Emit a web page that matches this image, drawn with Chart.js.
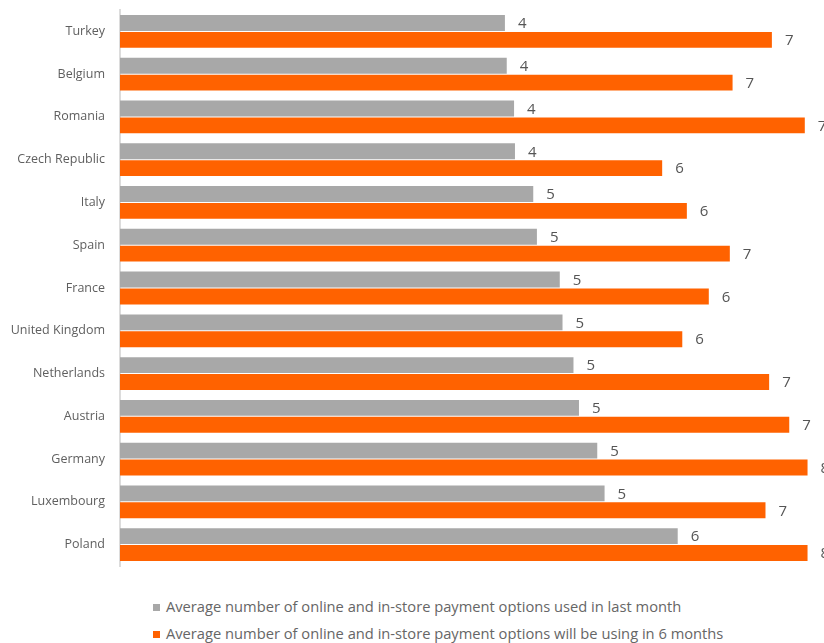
<!DOCTYPE html>
<html>
<head>
<meta charset="utf-8">
<script src="https://cdn.jsdelivr.net/npm/chart.js@4"></script>
<style>
    html, body { margin: 0; padding: 0; background: #fff; }
    #wrap { position: relative; width: 824px; height: 643px; }
    #chart { display: block; }
    #legend {
        position: absolute; left: 153px; top: 593px;
        font-family: "Open Sans", sans-serif; font-size: 14.7px; color: #666;
        line-height: 27px;
    }
    #legend span.box {
        display: inline-block; width: 7px; height: 7px; margin-right: 6px;
        vertical-align: 1px;
    }
</style>
</head>
<body>
<div id="wrap">
    <canvas id="chart" width="824" height="580"></canvas>
    <div id="legend"></div>
</div>
<script>
// ============================================
// Payment options per country
// ============================================
const countries = ['Turkey', 'Belgium', 'Romania', 'Czech Republic', 'Italy', 'Spain', 'France',
                   'United Kingdom', 'Netherlands', 'Austria', 'Germany', 'Luxembourg', 'Poland'];
const usedLastMonth = [4.21, 4.23, 4.31, 4.32, 4.52, 4.56, 4.81, 4.84, 4.96, 5.02, 5.22, 5.30, 6.10];
const usingIn6Months = [7.13, 6.70, 7.49, 5.93, 6.20, 6.67, 6.44, 6.15, 7.10, 7.32, 7.52, 7.06, 7.52];
const seriesNames = [
    'Average number of online and in-store payment options used in last month',
    'Average number of online and in-store payment options will be using in 6 months'
];
const seriesColors = ['#a8a8a8', '#ff6200'];

// rounded value printed after each bar
const barValueLabels = {
    id: 'barValueLabels',
    afterDatasetsDraw(chart) {
        const c = chart.ctx;
        c.save();
        c.font = '15px "Open Sans", sans-serif';
        c.fillStyle = '#555';
        c.textAlign = 'left';
        c.textBaseline = 'middle';
        chart.data.datasets.forEach((ds, i) => {
            chart.getDatasetMeta(i).data.forEach((bar, j) => {
                c.fillText(String(Math.round(ds.data[j])), bar.x + 13, bar.y + 1);
            });
        });
        c.restore();
    }
};

const chart = new Chart(document.getElementById('chart'), {
    type: 'bar',
    data: {
        labels: countries,
        datasets: [
            { label: seriesNames[0], data: usedLastMonth, backgroundColor: seriesColors[0] },
            { label: seriesNames[1], data: usingIn6Months, backgroundColor: seriesColors[1] }
        ]
    },
    options: {
        indexAxis: 'y',
        responsive: false,
        animation: false,
        categoryPercentage: 0.79,
        barPercentage: 0.94,
        layout: { padding: { left: 10, top: 10, right: 0, bottom: 14 } },
        plugins: {
            legend: { display: false },
            tooltip: { enabled: false }
        },
        scales: {
            x: { display: false, min: 0, max: 7.7 },
            y: {
                grid: { display: false, drawTicks: false },
                border: { display: true, color: '#dcdcdc', width: 2 },
                // fixed axis width, and no extra room above/below the bars
                afterFit: s => { s.width = 110; s.paddingTop = 0; s.paddingBottom = 0; },
                ticks: {
                    color: '#5f5f5f',
                    padding: 15,
                    font: { family: '"Open Sans", sans-serif', size: 12.5 }
                }
            }
        }
    },
    plugins: [barValueLabels]
});

// legend below the chart, one entry per line
document.getElementById('legend').innerHTML = chart.data.datasets.map(ds =>
    '<div><span class="box" style="background:' + ds.backgroundColor + '"></span>' + ds.label + '</div>'
).join('');
</script>
</body>
</html>
